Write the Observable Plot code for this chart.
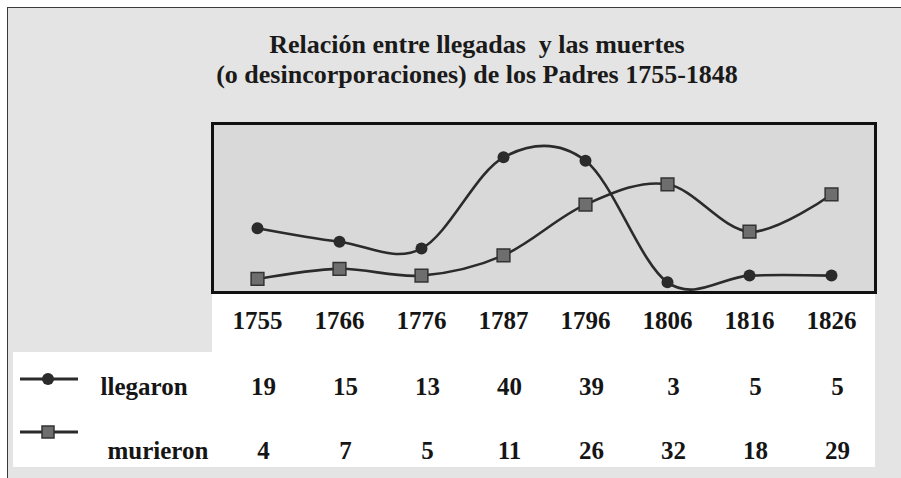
<!DOCTYPE html>
<html>
<head>
<meta charset="utf-8">
<script src="https://cdn.jsdelivr.net/npm/d3@7"></script>
<script src="https://cdn.jsdelivr.net/npm/@observablehq/plot@0.6"></script>
<style>
  html, body { margin: 0; padding: 0; background: #ffffff; }
  #wrap { position: relative; width: 901px; height: 478px; overflow: hidden; background: #ffffff; }
  #box { position: absolute; left: 7px; top: 7px; right: 0; bottom: 0; background: #e4e4e4;
         border-left: 1px solid #3a3a3a; border-top: 1px solid #3a3a3a; }
  .white { position: absolute; background: #ffffff; }
  #title { position: absolute; left: 77px; width: 800px; top: 30px; text-align: center;
           font-family: "Liberation Serif", "Times New Roman", serif; font-weight: bold;
           font-size: 26px; line-height: 30px; color: #1a1a1a; margin: 0; white-space: pre; }
  #chart { position: absolute; left: 0; top: 0; }
  #legend { position: absolute; left: 0; top: 0; }
</style>
</head>
<body>
<div id="wrap">
  <div id="box"></div>
  <div class="white" style="left:212px; top:294px; width:663px; height:60px;"></div>
  <div class="white" style="left:13px; top:352px; width:862px; height:115px;"></div>
  <h1 id="title"></h1>
  <div id="chart"></div>
  <svg id="legend" width="901" height="478"></svg>
</div>
<script>
// ---- data ----
const years = ["1755", "1766", "1776", "1787", "1796", "1806", "1816", "1826"];
const llegaron = [19, 15, 13, 40, 39, 3, 5, 5];
const murieron = [4, 7, 5, 11, 26, 32, 18, 29];
const seriesNames = ["llegaron", "murieron"];
const titleLines = [
  "Relación entre llegadas  y las muertes",
  "(o desincorporaciones) de los Padres 1755-1848"
];

// title
const t = document.getElementById("title");
titleLines.forEach((line, i) => {
  if (i) t.appendChild(document.createElement("br"));
  t.appendChild(document.createTextNode(line));
});

const rows = years.map((year, i) => ({year, llegaron: llegaron[i], murieron: murieron[i]}));

const lineColor = "#2b2b2b";
const textOpts = {frameAnchor: "bottom", lineAnchor: "top", fill: "#151515"};

const chart = Plot.plot({
  width: 901,
  height: 478,
  marginLeft: 212,
  marginRight: 26,
  marginTop: 123,
  marginBottom: 186,
  style: {background: "transparent", fontFamily: "'Liberation Serif', 'Times New Roman', serif",
          fontWeight: "bold", fontSize: "25px", color: "#151515"},
  x: {type: "point", domain: years, padding: 0.52, axis: null},
  y: {domain: [0, 50], axis: null},
  marks: [
    Plot.frame({fill: "#d9d9d9"}),
    Plot.line(rows, {x: "year", y: "murieron", curve: "cardinal", stroke: lineColor, strokeWidth: 2.6}),
    Plot.line(rows, {x: "year", y: "llegaron", curve: "cardinal", stroke: lineColor, strokeWidth: 2.6}),
    Plot.dot(rows, {x: "year", y: "murieron", symbol: "square", r: 7.2, fill: "#6e6e6e", stroke: "#333", strokeWidth: 1.5}),
    Plot.dot(rows, {x: "year", y: "llegaron", symbol: "circle", r: 6, fill: lineColor}),
    Plot.frame({stroke: "#111", strokeWidth: 3}),
    // tick labels
    Plot.text(years, {x: d => d, text: d => d, ...textOpts, dy: 18.5}),
    // table rows
    Plot.text(rows, {x: "year", text: d => String(d.llegaron), ...textOpts, dx: 6, dy: 84.5}),
    Plot.text(rows, {x: "year", text: d => String(d.murieron), ...textOpts, dx: 6, dy: 148.5}),
    // row labels
    Plot.text([seriesNames[0]], {text: d => d, frameAnchor: "bottom-left", lineAnchor: "top", textAnchor: "start", dx: -112, dy: 84.5, fill: "#151515"}),
    Plot.text([seriesNames[1]], {text: d => d, frameAnchor: "bottom-left", lineAnchor: "top", textAnchor: "start", dx: -105, dy: 148.5, fill: "#151515"})
  ]
});
document.getElementById("chart").appendChild(chart);

// legend swatches
const lg = d3.select("#legend");
lg.append("line").attr("x1", 20).attr("x2", 78).attr("y1", 379).attr("y2", 379)
  .attr("stroke", lineColor).attr("stroke-width", 3);
lg.append("circle").attr("cx", 48).attr("cy", 379).attr("r", 6).attr("fill", lineColor);
lg.append("line").attr("x1", 20).attr("x2", 78).attr("y1", 432).attr("y2", 432)
  .attr("stroke", lineColor).attr("stroke-width", 3);
lg.append("rect").attr("x", 42).attr("y", 426).attr("width", 12).attr("height", 12)
  .attr("fill", "#6e6e6e").attr("stroke", "#333").attr("stroke-width", 1.5);
</script>
</body>
</html>
